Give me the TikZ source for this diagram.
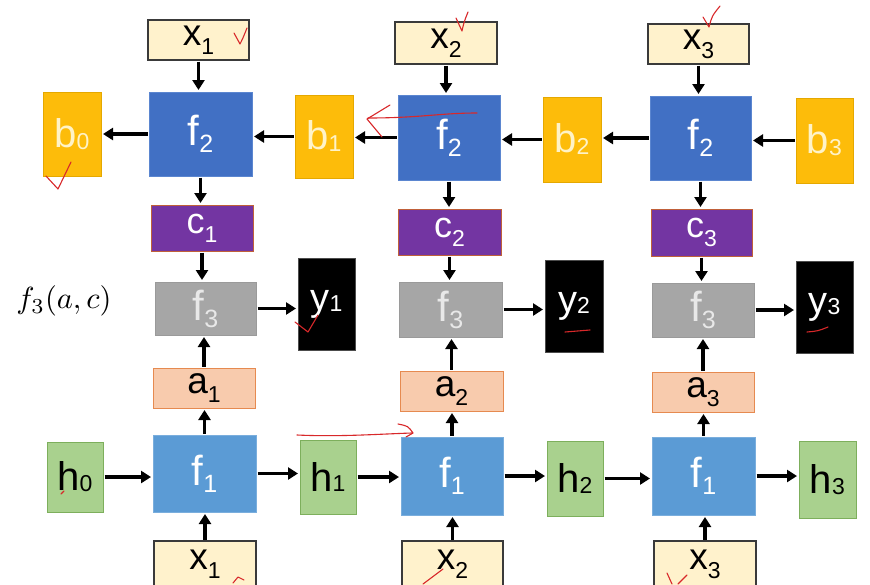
\documentclass[tikz,border=0pt]{standalone}
\usepackage[no-math]{fontspec}
\setmainfont{Liberation Sans}
\usetikzlibrary{arrows.meta}
\definecolor{xf}{HTML}{FFF2CC}
\definecolor{xd}{HTML}{3A3A3A}
\definecolor{ftwo}{HTML}{4170C4}
\definecolor{ftwod}{HTML}{5B86D0}
\definecolor{fone}{HTML}{5B9BD5}
\definecolor{foned}{HTML}{7AAEDD}
\definecolor{bf}{HTML}{FDBC0A}
\definecolor{bd}{HTML}{E5A800}
\definecolor{btxt}{HTML}{FFF3C8}
\definecolor{cf}{HTML}{7335A2}
\definecolor{cd}{HTML}{C0603A}
\definecolor{gf}{HTML}{A6A6A6}
\definecolor{gd}{HTML}{9A9A9A}
\definecolor{gtxt}{HTML}{E8E8E8}
\definecolor{af}{HTML}{F8CBAD}
\definecolor{ad}{HTML}{E68A50}
\definecolor{hf}{HTML}{A9D18E}
\definecolor{hd}{HTML}{7DAF5C}
\definecolor{pen}{HTML}{D8282A}
\newcommand\lbl[5]{\fontsize{#1}{#1}\selectfont #2\raisebox{-#5pt}{\fontsize{#3}{#3}\selectfont #4}}
\newcommand\B[7]{\node[#2, minimum width=#5pt, minimum height=#6pt] (#1) at (#3,#4) {#7};}
\begin{document}
\begin{tikzpicture}[x=1pt,y=-1pt,
  bx/.style={rectangle, inner sep=0pt, outer sep=0pt, line width=1pt},
  xbox/.style={bx, fill=xf, draw=xd, line width=1.8pt, text=black},
  ftbox/.style={bx, fill=ftwo, draw=ftwod, text=white},
  fobox/.style={bx, fill=fone, draw=foned, text=white},
  bbox/.style={bx, fill=bf, draw=bd, text=btxt},
  cbox/.style={bx, fill=cf, draw=cd, text=white},
  gbox/.style={bx, fill=gf, draw=gd, text=gtxt},
  ybox/.style={bx, fill=black, draw=black!70, text=white},
  abox/.style={bx, fill=af, draw=ad, text=black},
  hbox/.style={bx, fill=hf, draw=hd, text=black},
  arr/.style={line width=3.6pt, -{Triangle[length=10pt,width=12pt]}, shorten <=1.5pt, shorten >=2pt},
  ink/.style={pen, line width=1.1pt, line cap=round, line join=round}]
\useasboundingbox (0,0) rectangle (870,584);
% column 1
\B{xt1}{xbox}{198.5}{40}{101}{40}{\lbl{37}{x}{23}{1}{9}}
\B{f21}{ftbox}{200.5}{134}{103}{84}{\lbl{42}{f}{25}{2}{7}}
\B{b0}{bbox}{72}{134}{58}{84}{\lbl{40}{b}{23}{0}{2}}
\B{b1}{bbox}{324}{136.5}{58}{83}{\lbl{40}{b}{23}{1}{2}}
\B{c1}{cbox}{202}{228}{102}{46}{\lbl{36}{c}{23}{1}{9}}
\B{f31}{gbox}{205.5}{308.5}{101}{53}{\lbl{42}{f}{25}{3}{7}}
\B{y1}{ybox}{326.5}{304}{57}{92}{\lbl{38}{y}{23}{1}{1}}
\B{a1}{abox}{204}{388}{102}{40}{\lbl{37}{a}{23}{1}{9}}
\B{h0}{hbox}{75}{477}{56}{70}{\lbl{40}{h}{23}{0}{1}}
\B{f11}{fobox}{204.5}{473.5}{103}{77}{\lbl{42}{f}{25}{1}{7}}
\B{h1}{hbox}{328}{477}{56}{74}{\lbl{40}{h}{23}{1}{1}}
\B{xb1}{xbox}{205}{564}{102}{46}{\lbl{37}{x}{23}{1}{9}}
% column 2
\B{xt2}{xbox}{446}{43}{102}{42}{\lbl{37}{x}{23}{2}{9}}
\B{f22}{ftbox}{449}{137.5}{102}{85}{\lbl{42}{f}{25}{2}{7}}
\B{b2}{bbox}{572}{139.5}{58}{85}{\lbl{40}{b}{23}{2}{2}}
\B{c2}{cbox}{449.5}{232}{103}{46}{\lbl{36}{c}{23}{2}{9}}
\B{f32}{gbox}{450.5}{309.5}{103}{55}{\lbl{42}{f}{25}{3}{7}}
\B{y2}{ybox}{574}{306}{58}{92}{\lbl{38}{y}{23}{2}{1}}
\B{a2}{abox}{451.5}{391}{103}{40}{\lbl{37}{a}{23}{2}{9}}
\B{f12}{fobox}{452}{476}{102}{78}{\lbl{42}{f}{25}{1}{7}}
\B{h2}{hbox}{575}{478.5}{56}{75}{\lbl{40}{h}{23}{2}{1}}
\B{xb2}{xbox}{452.5}{564}{101}{46}{\lbl{37}{x}{23}{2}{9}}
% column 3
\B{xt3}{xbox}{698.5}{44}{101}{40}{\lbl{37}{x}{23}{3}{9}}
\B{f23}{ftbox}{700.5}{138}{101}{84}{\lbl{42}{f}{25}{2}{7}}
\B{b3}{bbox}{824.5}{140.5}{57}{85}{\lbl{40}{b}{23}{3}{2}}
\B{c3}{cbox}{701.5}{232.5}{101}{47}{\lbl{36}{c}{23}{3}{9}}
\B{f33}{gbox}{703}{310}{102}{54}{\lbl{42}{f}{25}{3}{7}}
\B{y3}{ybox}{824.5}{307}{57}{92}{\lbl{38}{y}{23}{3}{1}}
\B{a3}{abox}{703}{392}{102}{40}{\lbl{37}{a}{23}{3}{9}}
\B{f13}{fobox}{703.5}{476}{103}{78}{\lbl{42}{f}{25}{1}{7}}
\B{h3}{hbox}{827.5}{479.5}{57}{77}{\lbl{40}{h}{23}{3}{1}}
\B{xb3}{xbox}{705}{564}{102}{46}{\lbl{37}{x}{23}{3}{9}}
% side label
\node[inner sep=0pt] (lab) at (64,301) {\scalebox{3.05}{$f_3(a,c)$}};
% arrows
\foreach \i/\j in {1/1,2/2,3/3}{
  \draw[arr] (xt\i.south) -- (xt\i.south |- f2\j.north);
  \draw[arr] (f2\i.south) -- (f2\i.south |- c\j.north);
  \draw[arr] (c\i.south) -- (c\i.south |- f3\j.north);
  \draw[arr] (a\i.north) -- (a\i.north |- f3\j.south);
  \draw[arr] (f1\i.north) -- (f1\i.north |- a\j.south);
  \draw[arr] (xb\i.north) -- (xb\i.north |- f1\j.south);
  \draw[arr] (f3\i.east) -- (f3\i.east -| y\j.west);
}
\draw[arr] (f21.west) -- (f21.west -| b0.east);
\draw[arr] (b1.west) -- (b1.west -| f21.east);
\draw[arr] (f22.west) -- (f22.west -| b1.east);
\draw[arr] (b2.west) -- (b2.west -| f22.east);
\draw[arr] (f23.west) -- (f23.west -| b2.east);
\draw[arr] (b3.west) -- (b3.west -| f23.east);
\draw[arr] (h0.east) -- (h0.east -| f11.west);
\draw[arr] (f11.east) -- (f11.east -| h1.west);
\draw[arr] (h1.east) -- (h1.east -| f12.west);
\draw[arr] (f12.east) -- (f12.east -| h2.west);
\draw[arr] (h2.east) -- (h2.east -| f13.west);
\draw[arr] (f13.east) -- (f13.east -| h3.west);
% handwritten red marks
\draw[ink] (234,33) -- (240,44) .. controls (243,38) .. (247,28);
\draw[ink] (46,176) -- (58,189) -- (71,162);
\draw[ink] (456,18) -- (462,31) .. controls (464,22) .. (468,12);
\draw[ink] (477,113) .. controls (440,113) and (420,118) .. (368,118);
\draw[ink] (390,105) -- (367,119) -- (382,137);
\draw[ink] (703,17) -- (709,27) .. controls (712,16) .. (720,6);
\draw[ink] (295,322) -- (308,332) -- (318,315);
\draw[ink] (297,435) .. controls (340,437) and (380,434) .. (412,433);
\draw[ink] (398,424) .. controls (408,426) .. (413,433) -- (406,437);
\draw[ink] (565,332) -- (590,330);
\draw[ink] (807,332) .. controls (818,331) .. (828,327);
\draw[ink] (61,494) -- (64,491);
\draw[ink] (233,583) -- (238,577) -- (244,580);
\draw[ink] (423,584) -- (443,569);
\draw[ink] (667,573) -- (672,584);
\draw[ink] (678,584) -- (687,575);
\end{tikzpicture}
\end{document}
